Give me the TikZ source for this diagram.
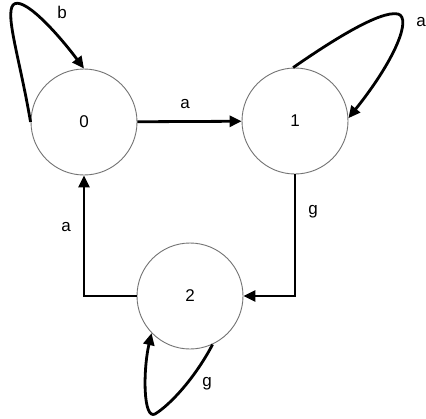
\documentclass[tikz,border=0pt]{standalone}
\usepackage{fontspec}
\setmainfont{Liberation Sans}
\usetikzlibrary{arrows.meta}
\begin{document}
\begin{tikzpicture}[x=1pt,y=-1pt,
  state/.style={circle,draw=black!55,line width=0.9pt,fill=white,minimum size=106pt,inner sep=0pt,font=\fontsize{17}{20}\selectfont},
  edge/.style={line width=2.8pt,-{Triangle[length=12pt,width=11pt]}},
  lbl/.style={font=\fontsize{17}{20}\selectfont,inner sep=0pt}]
\useasboundingbox (0,0) rectangle (426,418);
\node[state] (n0) at (84,122) {0};
\node[state] (n1) at (295,121) {1};
\node[state] (n2) at (190,296) {2};
% edges
\draw[edge] (n0) -- (n1);
\draw[edge] (n1.south) |- (n2.east);
\draw[edge] (n2.west) -| (n0.south);
% loops
\draw[edge] (n0.180) .. controls (20,60) and (5,15) .. (13,5) .. controls (22,-5) and (55,30) .. (n0.90);
\draw[edge] (n1.92) .. controls (330,42) and (380,10) .. (398,14) .. controls (412,18) and (395,60) .. (n1.3);
\draw[edge] (n2.-65) .. controls (195,378) and (170,405) .. (155,414) .. controls (143,420) and (143,370) .. (n2.-136);
% labels
\node[lbl] (la01) at (185,104) {a};
\node[lbl] (lg12) at (313,212) {g};
\node[lbl] (la20) at (66,227) {a};
\node[lbl] (lb0) at (62,12) {b};
\node[lbl] (la1) at (421,22) {a};
\node[lbl] (lg2) at (207,384) {g};
\end{tikzpicture}
\end{document}
